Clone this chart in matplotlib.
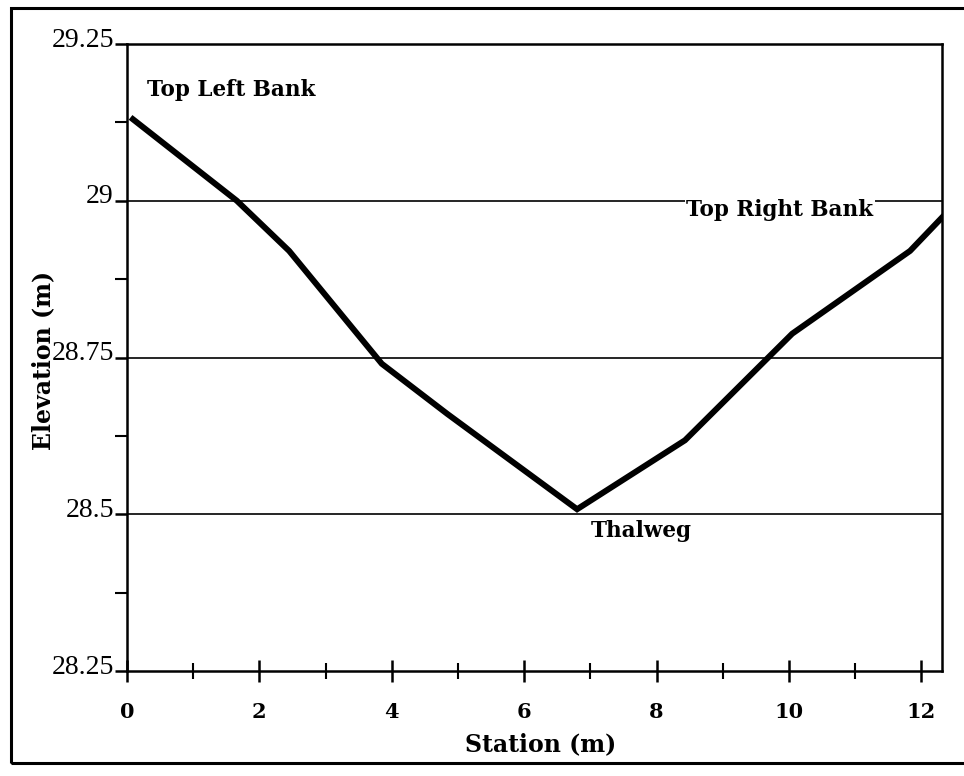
import matplotlib
matplotlib.use("Agg")
import matplotlib.pyplot as plt
from matplotlib.ticker import MultipleLocator
from matplotlib.patches import Rectangle
from matplotlib.transforms import ScaledTranslation

# cross-section survey
station = [0.09, 1.66, 2.45, 3.85, 4.84, 6.80, 8.43, 10.05, 11.83, 12.31]
elevation = [29.13, 29.00, 28.92, 28.74, 28.66, 28.508, 28.618, 28.788, 28.92, 28.973]

labels = ["Top Left Bank", "Top Right Bank", "Thalweg"]
label_x = [0.31, 8.45, 7.0]
label_y = [29.177, 28.985, 28.473]

grid_levels = [28.5, 28.75, 29.0]

fig = plt.figure(figsize=(9.64, 7.76), dpi=100)
ax = fig.add_axes([0.1317, 0.1353, 0.8453, 0.808])

# scanned page border
fig.patches.append(Rectangle((0.011, 0.017), 1.05, 0.973, transform=fig.transFigure,
                             fill=False, lw=2.2, ec="black"))

for g in grid_levels:
    ax.axhline(g, color="black", lw=1.2, zorder=1)

ax.plot(station, elevation, color="black", lw=4.3, solid_joinstyle="miter", zorder=3)

bold = dict(family="DejaVu Serif", weight="bold", fontsize=15.5)
for t, x, y in zip(labels, label_x, label_y):
    kw = {}
    if t == "Top Right Bank":
        kw["bbox"] = dict(facecolor="white", edgecolor="none", pad=1)
    ax.text(x, y, t, ha="left", va="center", zorder=4, **bold, **kw)

ax.set_xlim(0, 12.31)
ax.set_ylim(28.25, 29.25)
ax.xaxis.set_major_locator(MultipleLocator(2))
ax.xaxis.set_minor_locator(MultipleLocator(1))
ax.yaxis.set_minor_locator(MultipleLocator(0.125))
ax.set_yticks([28.25, 28.5, 28.75, 29.0, 29.25])
ax.set_yticklabels(["28.25", "28.5", "28.75", "29", "29.25"])

for s in ax.spines.values():
    s.set_linewidth(1.8)

ax.tick_params(axis="x", which="major", direction="inout", length=16, width=1.8, pad=14)
ax.tick_params(axis="x", which="minor", direction="inout", length=12, width=1.5)
ax.tick_params(axis="y", which="major", direction="out", length=9, width=1.8, pad=0.5)
ax.tick_params(axis="y", which="minor", direction="out", length=9, width=1.5)

for lab in ax.get_xticklabels():
    lab.set_fontfamily("DejaVu Serif")
    lab.set_fontweight("bold")
    lab.set_fontsize(15)
up = ScaledTranslation(0, 5 / 72, fig.dpi_scale_trans)
for lab in ax.get_yticklabels():
    lab.set_fontfamily("Liberation Serif")
    lab.set_fontsize(20)
    lab.set_transform(lab.get_transform() + up)

ax.set_xlabel("Station (m)", family="DejaVu Serif", weight="bold", fontsize=17)
ax.set_ylabel("Elevation (m)", family="DejaVu Serif", weight="bold", fontsize=17)
ax.xaxis.set_label_coords(0.508, -0.097)
ax.yaxis.set_label_coords(-0.088, 0.496)

fig.savefig("out.png", dpi=100)
